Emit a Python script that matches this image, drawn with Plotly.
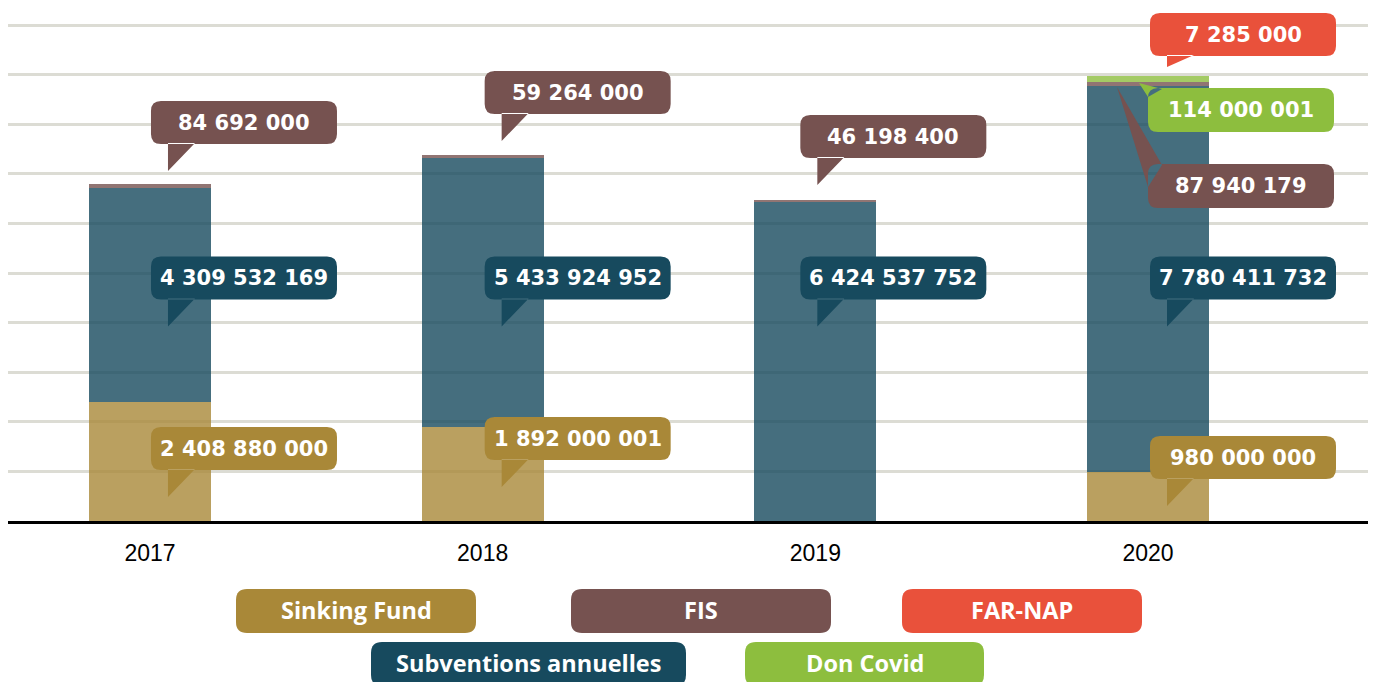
import plotly.graph_objects as go

years = ["2017", "2018", "2019", "2020"]
sinking_fund = [2408880000, 1892000001, 0, 980000000]
subventions = [4309532169, 5433924952, 6424537752, 7780411732]
fis = [84692000, 59264000, 46198400, 87940179]
don_covid = [0, 0, 0, 114000001]
far_nap = [0, 0, 0, 7285000]

C_SINK = "#A98838"
C_SUBV = "#174A5E"
C_FIS = "#765250"
C_FAR = "#E9513B"
C_COVID = "#8DBE3E"


def rgba(h, a):
    h = h.lstrip("#")
    r, g, b = int(h[0:2], 16), int(h[2:4], 16), int(h[4:6], 16)
    return f"rgba({r},{g},{b},{a})"


def fmt(v):
    return f"{v:,}".replace(",", " ")


xs = list(range(len(years)))
fig = go.Figure()
for name, vals, col in [
    ("Sinking Fund", sinking_fund, C_SINK),
    ("Subventions annuelles", subventions, C_SUBV),
    ("FIS", fis, C_FIS),
    ("Don Covid", don_covid, C_COVID),
    ("FAR-NAP", far_nap, C_FAR),
]:
    fig.add_trace(go.Bar(x=xs, y=vals, name=name, width=0.367,
                         marker=dict(color=rgba(col, 0.8), line=dict(width=0)),
                         showlegend=False, hoverinfo="skip"))

PX_PER_UNIT = 49.6 / 1e9  # pixels per value unit
BASE_PX = 521


def rr_path(x0, x1, y0, y1, r):
    # screen coords (y down) -> plotly pixel offsets (y up)
    yb, yt = -y1, -y0
    return (f"M{x0+r},{yb} L{x1-r},{yb} Q{x1},{yb} {x1},{yb+r} L{x1},{yt-r} "
            f"Q{x1},{yt} {x1-r},{yt} L{x0+r},{yt} Q{x0},{yt} {x0},{yt-r} "
            f"L{x0},{yb+r} Q{x0},{yb} {x0+r},{yb} Z")


def tri_path(pts):
    p = " L".join(f"{x},{-y}" for x, y in pts)
    return f"M{p} Z"


shapes = []
annotations = []


def callout(xc, yval, box, tail, color, text, xref="x", yref="y"):
    bx0, bx1, by0, by1 = box
    path = rr_path(bx0, bx1, by0, by1, 10) + " " + tri_path(tail)
    shapes.append(dict(type="path", xref=xref, yref=yref, xsizemode="pixel",
                       ysizemode="pixel", xanchor=xc, yanchor=yval, path=path,
                       fillcolor=color, line=dict(width=0), layer="above"))
    annotations.append(dict(x=xc, y=yval, xref=xref, yref=yref, text=f"<b>{text}</b>",
                            showarrow=False, xanchor="center", yanchor="middle",
                            xshift=(bx0 + bx1) / 2, yshift=-(by0 + by1) / 2,
                            font=dict(family="DejaVu Sans", size=21, color="white")))


def std_callout(i, tip_px, dx, color, value, tail_len=27):
    yval = (BASE_PX - tip_px) / PX_PER_UNIT
    box = (dx - 17, dx + 169, -(tail_len + 43), -tail_len)
    tail = [(dx, 0), (dx, -tail_len - 1), (dx + 27, -tail_len - 1)]
    callout(i, yval, box, tail, color, fmt(value))


# label placement (screen pixel heights of the callout tips)
fis_tip = [171, 141, 185, 0]
subv_tip = [326.5, 326.5, 326.5, 326.5]
sink_tip = [497, 487, 0, 506]
dx_tip = [18, 19, 2, 19]

for i in range(4):
    if sinking_fund[i]:
        std_callout(i, sink_tip[i], dx_tip[i], C_SINK, sinking_fund[i])
    std_callout(i, subv_tip[i], dx_tip[i], C_SUBV, subventions[i])
    if i < 3:
        std_callout(i, fis_tip[i], dx_tip[i], C_FIS, fis[i])

# 2020 special callouts
std_callout(3, 67, 19, C_FAR, far_nap[3], tail_len=11)
callout(3, (BASE_PX - 83) / PX_PER_UNIT, (0, 186, 5, 49),
        [(-9, 0), (0, 14), (14, 6)], C_COVID, fmt(don_covid[3]))
callout(3, (BASE_PX - 87) / PX_PER_UNIT, (0, 186, 77, 121),
        [(-31, 0), (14, 78), (0, 100)], C_FIS, fmt(fis[3]))

# legend chips (paper anchored at plot bottom-left = screen (8, 521))
legend_items = [
    ("Sinking Fund", C_SINK, (236, 476, 589, 633)),
    ("FIS", C_FIS, (571, 831, 589, 633)),
    ("FAR-NAP", C_FAR, (902, 1142, 589, 633)),
    ("Subventions annuelles", C_SUBV, (371, 686, 642, 686)),
    ("Don Covid", C_COVID, (745, 984, 642, 686)),
]
for name, col, (x0, x1, y0, y1) in legend_items:
    bx = (x0 - 8, x1 - 8, y0 - BASE_PX, y1 - BASE_PX)
    shapes.append(dict(type="path", xref="paper", yref="paper", xsizemode="pixel",
                       ysizemode="pixel", xanchor=0, yanchor=0,
                       path=rr_path(*bx, 11), fillcolor=col, line=dict(width=0)))
    annotations.append(dict(x=0, y=0, xref="paper", yref="paper", text=f"<b>{name}</b>",
                            showarrow=False, xanchor="center", yanchor="middle",
                            xshift=(bx[0] + bx[1]) / 2, yshift=-(bx[2] + bx[3]) / 2 + 1,
                            font=dict(family="Open Sans", size=23.5, color="white")))

fig.update_layout(
    barmode="stack",
    width=1375, height=682,
    margin=dict(l=8, r=7, t=0, b=161),
    paper_bgcolor="white", plot_bgcolor="white",
    shapes=shapes, annotations=annotations,
    xaxis=dict(range=[-0.4268, 3.6613], tickvals=xs, ticktext=years,
               showgrid=False, zeroline=False, showline=True, linecolor="black",
               linewidth=3, ticks="", ticklabelstandoff=9,
               tickfont=dict(family="Liberation Sans", size=23, color="black")),
    yaxis=dict(range=[0, BASE_PX / PX_PER_UNIT], dtick=1e9, showticklabels=False,
               showgrid=True, gridcolor="#DCDCD4", gridwidth=2.5, zeroline=False,
               showline=False),
    hovermode=False,
)

fig.write_html("out.html", config={"displayModeBar": False},
               post_script="document.body.style.margin='0';document.body.style.overflow='hidden';")
